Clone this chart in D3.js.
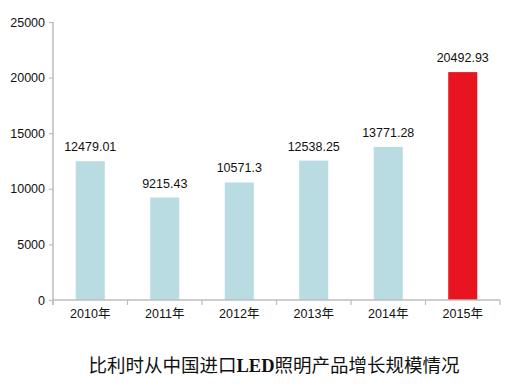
<!DOCTYPE html>
<html><head><meta charset="utf-8">
<script src="https://cdn.jsdelivr.net/npm/d3@7"></script>
<style>body{margin:0;background:#fff}svg{display:block}</style>
</head><body>
<svg id="c" width="513" height="387"></svg>
<script>
const categories = ["2010年","2011年","2012年","2013年","2014年","2015年"];
const values = [12479.01, 9215.43, 10571.3, 12538.25, 13771.28, 20492.93];
const valueLabels = ["12479.01","9215.43","10571.3","12538.25","13771.28","20492.93"];
const yTicks = [0, 5000, 10000, 15000, 20000, 25000];
const titleParts = ["比利时从中国进口", "LED", "照明产品增长规模情况"];

(function(){
const svg = d3.select("#c");
const mLeft = 53, mRight = 500, mTop = 22, mBottom = 300;
const x = d3.scaleBand().domain(categories).range([mLeft, mRight]).paddingInner(0.61).paddingOuter(0.305);
const y = d3.scaleLinear().domain([0, 25000]).range([mBottom, mTop]);
const axisColor = "#bdbdbd";
const font = "'Liberation Sans', Arial, 'Noto Sans CJK SC', sans-serif";

// bars
svg.selectAll("rect.bar").data(values).enter().append("rect")
  .attr("x", (d,i) => x(categories[i]))
  .attr("y", d => y(d))
  .attr("width", x.bandwidth())
  .attr("height", d => mBottom - y(d))
  .attr("fill", (d,i) => i === values.length - 1 ? "#e8141f" : "#b9dce2");

// value labels
svg.selectAll("text.val").data(values).enter().append("text")
  .attr("x", (d,i) => x(categories[i]) + x.bandwidth()/2)
  .attr("y", d => y(d) - 10)
  .attr("text-anchor", "middle")
  .attr("font-family", font).attr("font-size", 12.5).attr("fill", "#111")
  .text((d,i) => valueLabels[i]);

// y axis
const ya = svg.append("g").attr("transform", `translate(${mLeft},0)`)
  .call(d3.axisLeft(y).tickValues(yTicks).tickFormat(d3.format("d")).tickSize(4).tickSizeOuter(0).tickPadding(4));
ya.select(".domain").attr("stroke", axisColor).attr("stroke-width", 1.5)
  .attr("d", `M0,${mTop}V${mBottom+5}`);
ya.selectAll(".tick line").attr("stroke", axisColor).attr("stroke-width", 1.2);
ya.selectAll(".tick text").attr("font-family", font).attr("font-size", 12.5).attr("fill", "#111");

// x axis
const xa = svg.append("g").attr("transform", `translate(0,${mBottom})`)
  .call(d3.axisBottom(x).tickSize(0).tickPadding(9));
xa.select(".domain").attr("stroke", axisColor).attr("stroke-width", 1.5).attr("d", `M${mLeft},0H${mRight}`);
xa.selectAll(".tick text").attr("font-family", font).attr("font-size", 12.5).attr("fill", "#111");
const step = x.step();
const edges = d3.range(categories.length + 1).map(i => mLeft + i * step);
xa.selectAll("line.edge").data(edges).enter().append("line")
  .attr("x1", d => d).attr("x2", d => d).attr("y1", 0).attr("y2", 5)
  .attr("stroke", axisColor).attr("stroke-width", 1.2);

// title
const t = svg.append("text").attr("x", 274).attr("y", 372).attr("text-anchor", "middle")
  .attr("font-family", "'Noto Sans CJK SC', sans-serif")
  .attr("font-size", 18.5).attr("fill", "#111");
t.append("tspan").text(titleParts[0]);
t.append("tspan").attr("font-family", "'Liberation Serif', serif").attr("font-weight", "bold").text(titleParts[1]);
t.append("tspan").text(titleParts[2]);
})();
</script>
</body></html>
